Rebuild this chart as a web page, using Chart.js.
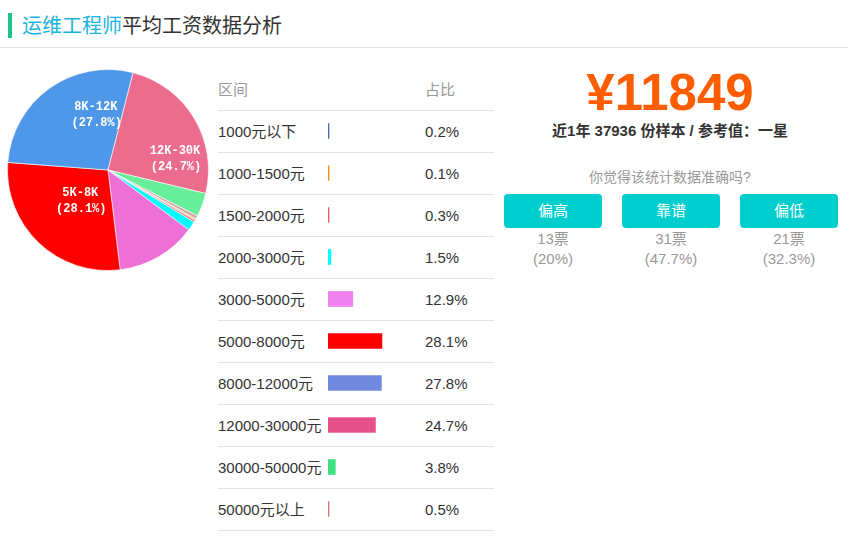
<!DOCTYPE html>
<html>
<head>
<meta charset="utf-8">
<title>运维工程师平均工资数据分析</title>
<script src="https://cdn.jsdelivr.net/npm/chart.js@4.4.0/dist/chart.umd.min.js"></script>
<style>
    body { margin: 0; width: 853px; height: 536px; background: #fff; position: relative; overflow: hidden;
           font-family: "Liberation Sans", "Noto Sans CJK SC", sans-serif; color: #333; }
    .abs { position: absolute; }
    #titleBar { left: 8px; top: 13px; width: 4px; height: 25px; background: #19c489; }
    #title { left: 22px; top: 10px; font-size: 20px; line-height: 30px; font-family: "Noto Sans CJK SC", sans-serif; color: #333; }
    #title span { color: #19b4dc; }
    #titleLine { left: 0; top: 47px; width: 848px; height: 1px; background: #dedede; }
    .row { position: absolute; left: 218px; width: 276px; height: 42px; border-bottom: 1px solid #e3e3e3; box-sizing: border-box; font-size: 15px; line-height: 41px; }
    .row .pct { position: absolute; left: 207px; top: 0; }
    .row.head { color: #999; }
    #avg { left: 500px; width: 340px; top: 60px; text-align: center; font-size: 51px; font-weight: bold; color: #ff5d00; line-height: 66px; }
    #sample { left: 500px; width: 340px; top: 121px; text-align: center; font-size: 15px; font-weight: bold; color: #333; line-height: 20px; }
    #ask { left: 500px; width: 340px; top: 167px; text-align: center; font-size: 14px; color: #999; line-height: 20px; }
    .btn { position: absolute; top: 194px; width: 98px; height: 34px; background: #00cdcd; border-radius: 4px; color: #fff; font-size: 15px; line-height: 34px; text-align: center; }
    .vote { position: absolute; top: 229px; width: 98px; text-align: center; color: #999; font-size: 15px; line-height: 20px; }
</style>
</head>
<body>

<div class="abs" id="titleBar"></div>
<div class="abs" id="title"><span>运维工程师</span>平均工资数据分析</div>
<div class="abs" id="titleLine"></div>

<div class="abs" style="left:7px; top:69px; width:202px; height:202px;">
    <canvas id="pieChart" width="202" height="202"></canvas>
</div>

<div id="table"></div>
<div class="abs" style="left:328px; top:110px; width:96px; height:420px;">
    <canvas id="barChart" width="96" height="420"></canvas>
</div>

<div class="abs" id="avg"></div>
<div class="abs" id="sample"></div>
<div class="abs" id="ask">你觉得该统计数据准确吗?</div>
<div id="votes"></div>

<script>
// ==================== DATA ====================

const ranges = ['1000元以下', '1000-1500元', '1500-2000元', '2000-3000元', '3000-5000元',
                '5000-8000元', '8000-12000元', '12000-30000元', '30000-50000元', '50000元以上'];
const shares = [0.2, 0.1, 0.3, 1.5, 12.9, 28.1, 27.8, 24.7, 3.8, 0.5];
const pieLabels = ['', '', '', '', '', '5K-8K', '8K-12K', '12K-30K', '', ''];

const pieColors = ['#a89a9a', '#ff8c00', '#ff6347', '#00ffff', '#ee6fd6',
                   '#ff0000', '#4f97e9', '#ec6c8e', '#66ef98', '#d4a5a5'];
const barColors = ['#4a6ca8', '#ff8c00', '#f05a5a', '#00ffff', '#ee82ee',
                   '#ff0000', '#7289e2', '#e5508a', '#3ee081', '#d9707a'];

const avgSalary = 11849;
const sampleCount = 37936;
const refLevel = '一星';

const voteLabels = ['偏高', '靠谱', '偏低'];
const voteCounts = [13, 31, 21];
const votePct = ['20%', '47.7%', '32.3%'];

// label nudges (px) from the arc's middle point, only for labelled slices
const labelNudge = { 5: [7, -7], 6: [17, -16], 7: [24, 13] };

// ==================== TEXT PARTS ====================

document.getElementById('avg').textContent = '¥' + avgSalary;
document.getElementById('sample').textContent = '近1年 ' + sampleCount + ' 份样本 / 参考值：' + refLevel;

const table = document.getElementById('table');
let html = '<div class="row head" style="top:69px">区间<span class="pct">占比</span></div>';
ranges.forEach((r, i) => {
    html += `<div class="row" style="top:${111 + i * 42}px">${r}<span class="pct">${shares[i]}%</span></div>`;
});
table.innerHTML = html;

const votesEl = document.getElementById('votes');
voteLabels.forEach((v, i) => {
    const left = 504 + i * 118;
    votesEl.innerHTML += `<div class="btn" style="left:${left}px">${v}</div>` +
        `<div class="vote" style="left:${left}px">${voteCounts[i]}票<br>(${votePct[i]})</div>`;
});

// ==================== PIE CHART ====================

const pieLabelPlugin = {
    id: 'pieLabels',
    afterDatasetsDraw(chart) {
        const ctx = chart.ctx;
        const arcs = chart.getDatasetMeta(0).data;
        ctx.save();
        ctx.fillStyle = '#fff';
        ctx.font = 'bold 12px "Liberation Mono", monospace';
        ctx.textAlign = 'center';
        ctx.textBaseline = 'middle';
        arcs.forEach((arc, i) => {
            if (!pieLabels[i]) return;
            const p = arc.tooltipPosition();
            const n = labelNudge[i] || [0, 0];
            ctx.fillText(pieLabels[i], p.x + n[0], p.y + n[1] - 6);
            ctx.fillText('(' + shares[i] + '%)', p.x + n[0] + 1, p.y + n[1] + 10);
        });
        ctx.restore();
    }
};

new Chart(document.getElementById('pieChart'), {
    type: 'pie',
    data: {
        labels: ranges,
        datasets: [{
            data: shares,
            backgroundColor: pieColors,
            borderColor: 'rgba(255,255,255,0.6)',
            borderWidth: 1
        }]
    },
    options: {
        responsive: false,
        animation: false,
        rotation: 119,
        layout: { padding: 0 },
        plugins: { legend: { display: false }, tooltip: { enabled: false } }
    },
    plugins: [pieLabelPlugin]
});

// ==================== TABLE BARS ====================

new Chart(document.getElementById('barChart'), {
    type: 'bar',
    data: {
        labels: ranges,
        datasets: [{
            data: shares,
            backgroundColor: barColors,
            borderWidth: 0,
            barThickness: 15,
            minBarLength: 1
        }]
    },
    options: {
        indexAxis: 'y',
        responsive: false,
        animation: false,
        layout: { padding: 0 },
        scales: {
            x: { display: false, min: 0, max: 50 },
            y: { display: false }
        },
        plugins: { legend: { display: false }, tooltip: { enabled: false } }
    }
});
</script>
</body>
</html>
